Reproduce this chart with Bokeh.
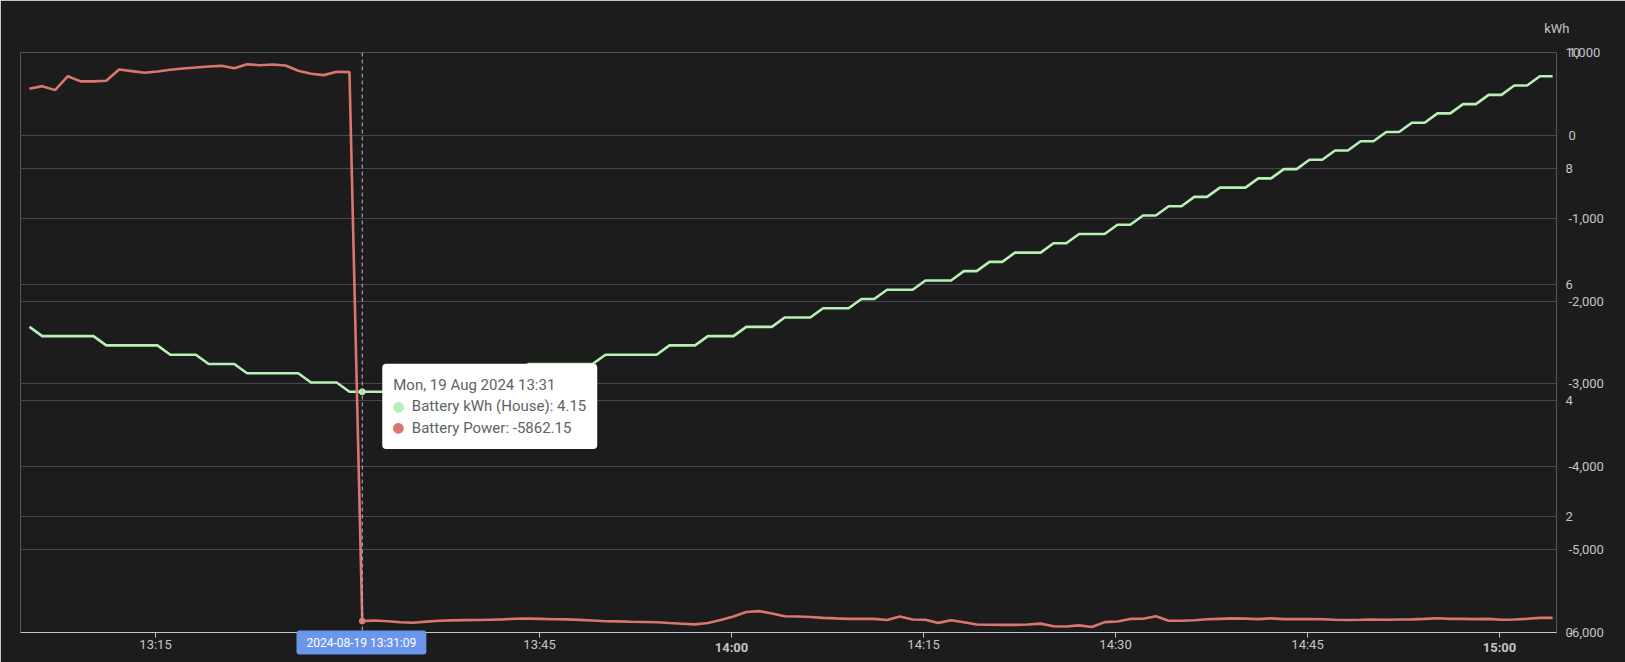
import pandas as pd
from bokeh.plotting import figure
from bokeh.models import (Range1d, LinearAxis, DatetimeAxis, FixedTicker, NumeralTickFormatter,
                          DatetimeTickFormatter, Span, Label, Grid, ColumnDataSource, Title)
from bokeh.embed import file_html
from bokeh.resources import INLINE

# ---------------- data ----------------
day = "2024-08-19"
first_sample = "13:05:09"          # one sample per minute
series_names = ["Battery kWh (House)", "Battery Power"]

battery_kwh = [
    5.27,
    5.11, 5.11, 5.11, 5.11, 5.11,
    4.95, 4.95, 4.95, 4.95, 4.95,
    4.79, 4.79, 4.79,
    4.63, 4.63, 4.63,
    4.47, 4.47, 4.47, 4.47, 4.47,
    4.31, 4.31, 4.31,
    4.15, 4.15, 4.15, 4.15, 4.15, 4.15, 4.15,
    4.31, 4.31, 4.31,
    4.47, 4.47, 4.47, 4.47,
    4.63, 4.63, 4.63, 4.63, 4.63, 4.63,
    4.79, 4.79, 4.79, 4.79, 4.79,
    4.95, 4.95, 4.95,
    5.11, 5.11, 5.11,
    5.27, 5.27, 5.27,
    5.43, 5.43, 5.43,
    5.59, 5.59, 5.59,
    5.75, 5.75,
    5.91, 5.91, 5.91,
    6.07, 6.07, 6.07,
    6.23, 6.23,
    6.39, 6.39,
    6.55, 6.55, 6.55,
    6.71, 6.71,
    6.87, 6.87, 6.87,
    7.03, 7.03,
    7.19, 7.19,
    7.35, 7.35,
    7.51, 7.51,
    7.67, 7.67, 7.67,
    7.83, 7.83,
    7.99, 7.99,
    8.15, 8.15,
    8.31, 8.31,
    8.47, 8.47,
    8.63, 8.63,
    8.79, 8.79,
    8.95, 8.95,
    9.11, 9.11,
    9.27, 9.27,
    9.43, 9.43,
    9.59, 9.59,
]

battery_power = [
    563, 594, 546, 714, 651, 651, 659, 795, 775, 755,
    771, 791, 807, 819, 831, 839, 811, 859, 847, 855,
    843, 779, 743, 727, 767, 763,
    -5862.15, -5856, -5865, -5876, -5882, -5869, -5858, -5854, -5851, -5850,
    -5846, -5842, -5834, -5832, -5836, -5840, -5842, -5848, -5856, -5864,
    -5866, -5870, -5873, -5877, -5886, -5894, -5902, -5886, -5848, -5806,
    -5752, -5742, -5770, -5803, -5806, -5813, -5824, -5830, -5835, -5835,
    -5836, -5850, -5808, -5843, -5846, -5884, -5853, -5877, -5904, -5906,
    -5908, -5908, -5904, -5893, -5924, -5928, -5914, -5933, -5875, -5868,
    -5836, -5834, -5805, -5859, -5859, -5852, -5841, -5835, -5830, -5833,
    -5838, -5830, -5839, -5839, -5839, -5840, -5847, -5850, -5847, -5843,
    -5847, -5843, -5841, -5836, -5828, -5835, -5835, -5839, -5836, -5847,
    -5843, -5835, -5823, -5823,
]

x_window = ["13:04:27", "15:04:27"]
x_tick_labels = ["13:15", "13:30", "13:45", "14:00", "14:15", "14:30", "14:45", "15:00"]
hour_tick_labels = ["14:00", "15:00"]
power_ticks = [-6000, -5000, -4000, -3000, -2000, -1000, 0, 1000]
kwh_ticks = [0, 2, 4, 6, 8, 10]
kwh_unit = "kWh"
hover_index = 26

# ---------------- style ----------------
BG = "#1c1c1c"
GRID = "#47464e"
AXIS = "#c6c6d0"
TXT = "#c4c4c8"
GREEN = "#b6f0b4"
RED = "#d9776f"
BLUE = "#6a96ec"
FONT = "Roboto"

times = pd.date_range(f"{day} {first_sample}", periods=len(battery_kwh), freq="1min")
src = ColumnDataSource(dict(t=times, kwh=battery_kwh, power=battery_power))


def ms(hhmm):
    return pd.Timestamp(f"{day} {hhmm}").value / 1e6


tick_ms = [ms(t) for t in x_tick_labels]
hour_ms = [ms(t) for t in hour_tick_labels]

p = figure(x_axis_type="datetime", y_axis_location=None,
           frame_width=1536, frame_height=580,
           min_border_left=20, min_border_right=69, min_border_top=52, min_border_bottom=30,
           x_range=Range1d(ms(x_window[0]), ms(x_window[1])),
           y_range=Range1d(power_ticks[0], power_ticks[-1]),
           output_backend="svg", toolbar_location=None,
           background_fill_color=BG, border_fill_color=BG, outline_line_color=None)
p.extra_y_ranges = {"kwh": Range1d(kwh_ticks[0], kwh_ticks[-1])}
p.xgrid.visible = False
p.ygrid.visible = False

# unit name at the top of the value axes
p.title.text = kwh_unit
p.title.align = "right"
p.title.offset = -13
p.title.vertical_align = "bottom"
p.title.standoff = 34
p.title.text_font = FONT
p.title.text_font_size = "13px"
p.title.text_font_style = "normal"
p.title.text_color = TXT

fmt = DatetimeTickFormatter(minutes="%H:%M", hours="%H:%M", hourmin="%H:%M", minsec="%H:%M")

xa = p.xaxis[0]
xa.ticker = FixedTicker(ticks=tick_ms)
xa.formatter = fmt
xa.axis_line_color = AXIS
xa.major_tick_line_color = AXIS
xa.major_tick_out = 5
xa.major_tick_in = 0
xa.minor_tick_line_color = None
xa.major_label_standoff = -1
xa.major_label_text_color = TXT
xa.major_label_text_font = FONT
xa.major_label_text_font_size = "13px"
xa.major_label_overrides = {t: "" for t in hour_ms}

hour_axis = DatetimeAxis(ticker=FixedTicker(ticks=hour_ms), formatter=fmt,
                         axis_line_color=None, major_tick_line_color=None, minor_tick_line_color=None,
                         major_tick_out=0, major_tick_in=0, major_label_standoff=-15,
                         major_label_text_color=TXT, major_label_text_font=FONT,
                         major_label_text_font_size="13px", major_label_text_font_style="bold")
p.add_layout(hour_axis, "below")

kwh_axis = LinearAxis(y_range_name="kwh", ticker=FixedTicker(ticks=kwh_ticks),
                      axis_line_color=None, major_tick_line_color=None, minor_tick_line_color=None,
                      major_tick_out=0, major_tick_in=0, major_label_standoff=9,
                      major_label_text_color=TXT, major_label_text_font=FONT,
                      major_label_text_font_size="13px")
p.add_layout(kwh_axis, "right")

power_axis = LinearAxis(ticker=FixedTicker(ticks=power_ticks), formatter=NumeralTickFormatter(format="0,0"),
                        axis_line_color=None, major_tick_line_color=None, minor_tick_line_color=None,
                        major_tick_out=0, major_tick_in=0, major_label_standoff=-15,
                        major_label_text_color=TXT, major_label_text_font=FONT,
                        major_label_text_font_size="13px")
p.add_layout(power_axis, "right")

p.add_layout(Grid(dimension=1, ticker=FixedTicker(ticks=power_ticks), grid_line_color=GRID))
p.add_layout(Grid(dimension=1, y_range_name="kwh", ticker=FixedTicker(ticks=kwh_ticks), grid_line_color=GRID))

p.line("t", "kwh", source=src, y_range_name="kwh", line_color=GREEN, line_width=2.6)
p.line("t", "power", source=src, line_color=RED, line_width=2.6)

# hover state (static)
t_h = times[hover_index]
t_h_ms = t_h.value / 1e6
p.add_layout(Span(location=t_h_ms, dimension="height", line_color="#b8b8c4", line_width=1, line_dash="4 3"))
p.scatter([t_h], [battery_kwh[hover_index]], y_range_name="kwh", size=6, color=GREEN)
p.scatter([t_h], [battery_power[hover_index]], size=6, color=RED)

nb = "\u00a0" * 5
tip_text = "\n".join([
    t_h.strftime("%a, %d %b %Y %H:%M"),
    f"{nb}{series_names[0]}: {battery_kwh[hover_index]}",
    f"{nb}{series_names[1]}: {battery_power[hover_index]}",
])
p.add_layout(Label(x=t_h_ms, y=battery_kwh[hover_index], y_range_name="kwh",
                   x_offset=20, y_offset=28, text=tip_text, text_font=FONT, text_font_size="15px",
                   text_color="#626262", text_align="left", text_baseline="top", text_line_height=1.2,
                   background_fill_color="white", padding=dict(x=11, y=12), border_radius=4))
p.add_layout(Label(x=t_h_ms, y=battery_kwh[hover_index], y_range_name="kwh",
                   x_offset=36, y_offset=-14, text="\u25cf", text_font="DejaVu Sans", text_font_size="14px",
                   text_color=GREEN, text_align="center", text_baseline="middle"))
p.add_layout(Label(x=t_h_ms, y=battery_kwh[hover_index], y_range_name="kwh",
                   x_offset=36, y_offset=-35, text="\u25cf", text_font="DejaVu Sans", text_font_size="14px",
                   text_color=RED, text_align="center", text_baseline="middle"))

# axis-pointer label under the x axis
pointer = Title(text=t_h.strftime("%Y-%m-%d %H:%M:%S"), align="left", offset=276,
                vertical_align="top", standoff=-54, text_font=FONT, text_font_size="12px",
                text_font_style="normal", text_color="white",
                background_fill_color=BLUE, padding=dict(x=10, y=5), border_radius=3)
p.add_layout(pointer, "below")

open("out.html", "w").write(file_html(p, INLINE))
